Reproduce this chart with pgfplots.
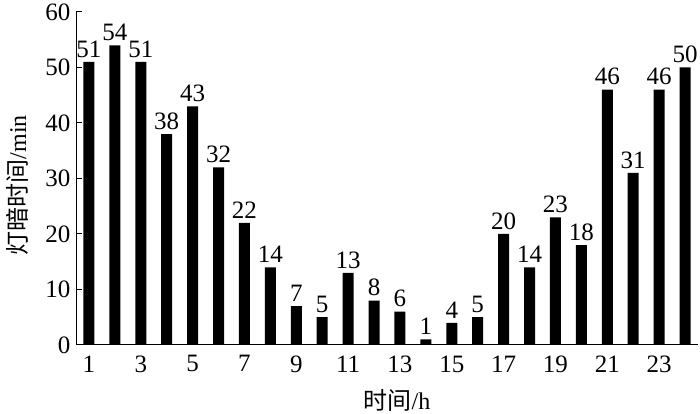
\documentclass[border=0pt]{standalone}
\usepackage{pgfplots}
\pgfplotsset{compat=1.18}
\usepackage{fontspec}
\setmainfont{Liberation Serif}
\newfontfamily\cjk{Noto Sans CJK SC}
\begin{document}
\begin{tikzpicture}[x=1pt,y=1pt]
\path[use as bounding box] (0,0) rectangle (700,414);
\begin{axis}[
  at={(76pt,69pt)}, anchor=south west,
  scale only axis, width=622pt, height=333pt,
  xmin=0.5, xmax=24.5, ymin=0, ymax=60,
  axis x line*=bottom, axis y line*=left,
  axis line style={line width=1pt, -},
  xtick={1,3,...,23}, ytick={0,10,...,60},
  x tick style={draw=none},
  y tick style={line width=1pt, black},
  tick align=inside, major tick length=6pt,
  ticklabel style={font=\fontsize{25}{28}\selectfont},
  /pgf/number format/assume math mode=true,
  xticklabel style={yshift=-1pt},
  yticklabel style={xshift=-2pt},
  ybar, bar width=11pt,
  nodes near coords,
  every node near coord/.append style={font=\fontsize{25}{28}\selectfont, yshift=1pt},
  xlabel={{\cjk 时间}/h}, ylabel={{\cjk 灯暗时间}/min},
  label style={font=\fontsize{24}{28}\selectfont},
  xlabel style={at={(axis description cs:0.516,-0.166)}, anchor=center},
  ylabel style={at={(axis description cs:-0.095,0.48)}, anchor=center},
]
\addplot[fill=black, draw=none] coordinates {
(1,51) (2,54) (3,51) (4,38) (5,43) (6,32) (7,22) (8,14) (9,7) (10,5) (11,13) (12,8)
(13,6) (14,1) (15,4) (16,5) (17,20) (18,14) (19,23) (20,18) (21,46) (22,31) (23,46) (24,50)};
\end{axis}
\end{tikzpicture}
\end{document}
